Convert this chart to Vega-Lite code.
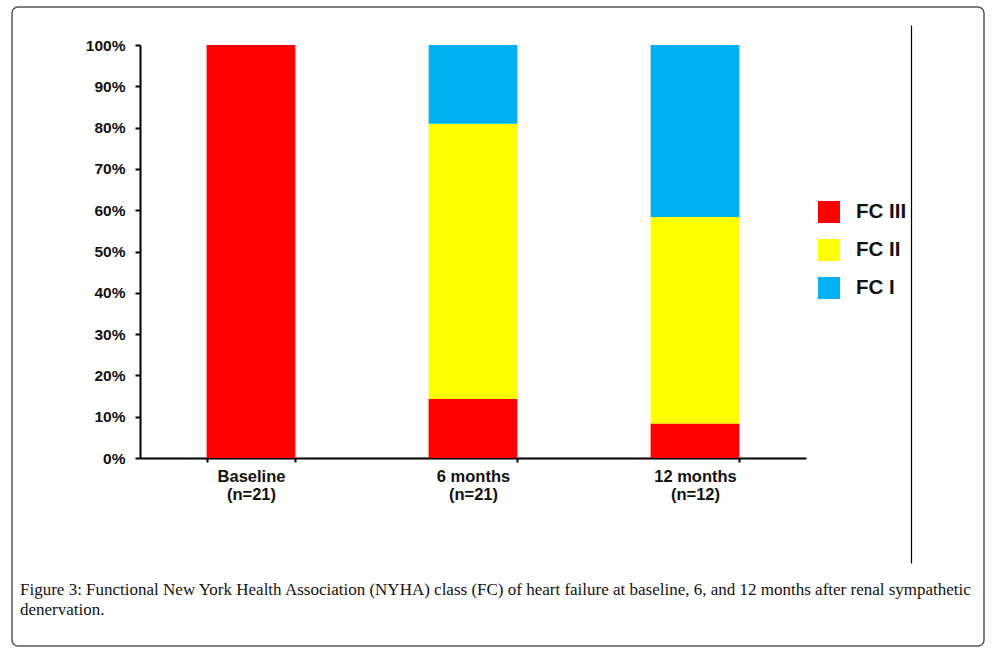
{
  "$schema": "https://vega.github.io/schema/vega-lite/v6.json",
  "autosize": {"type": "none"},
  "width": 972,
  "height": 639,
  "padding": {"left": 12, "top": 7, "right": 13, "bottom": 8},
  "background": "white",
  "config": {
    "view": {"stroke": "#555555", "strokeWidth": 1.5, "cornerRadius": 6},
    "font": "Liberation Sans"
  },
  "title": {
    "text": ["Figure 3: Functional New York Health Association (NYHA) class (FC) of heart failure at baseline, 6, and 12 months after renal sympathetic", "denervation."],
    "orient": "bottom",
    "anchor": "start",
    "frame": "group",
    "offset": -64,
    "dx": 8,
    "font": "Liberation Serif",
    "fontSize": 17,
    "fontWeight": "normal",
    "color": "#111111",
    "lineHeight": 20
  },
  "layer": [
    {
      "data": {
        "values": [
          {"period": "Baseline|(n=21)", "fc": "FC III", "count": 21},
          {"period": "6 months|(n=21)", "fc": "FC III", "count": 3},
          {"period": "6 months|(n=21)", "fc": "FC II", "count": 14},
          {"period": "6 months|(n=21)", "fc": "FC I", "count": 4},
          {"period": "12 months|(n=12)", "fc": "FC III", "count": 1},
          {"period": "12 months|(n=12)", "fc": "FC II", "count": 6},
          {"period": "12 months|(n=12)", "fc": "FC I", "count": 5}
        ]
      },
      "mark": {"type": "bar"},
      "encoding": {
        "x": {
          "field": "period",
          "type": "nominal",
          "sort": ["Baseline|(n=21)", "6 months|(n=21)", "12 months|(n=12)"],
          "scale": {"range": [128, 794], "paddingInner": 0.6, "paddingOuter": 0.3},
          "axis": {
            "title": null,
            "orient": "bottom",
            "offset": -188,
            "labelAngle": 0,
            "labelExpr": "split(datum.label, '|')",
            "labelFont": "Liberation Sans",
            "labelFontSize": 16.5,
            "labelFontWeight": "bold",
            "labelColor": "#111111",
            "labelPadding": 6,
            "labelLineHeight": 18,
            "tickBand": "extent",
            "tickSize": 4,
            "tickWidth": 2,
            "tickColor": "black",
            "domainColor": "black",
            "domainWidth": 2,
            "grid": false
          }
        },
        "y": {
          "field": "count",
          "type": "quantitative",
          "stack": "normalize",
          "scale": {"domain": [0, 1], "range": [451, 38], "nice": false, "zero": true},
          "axis": {
            "title": null,
            "orient": "left",
            "offset": -128,
            "format": ".0%",
            "values": [0, 0.1, 0.2, 0.3, 0.4, 0.5, 0.6, 0.7, 0.8, 0.9, 1],
            "labelFont": "Liberation Sans",
            "labelFontSize": 15.5,
            "labelFontWeight": "bold",
            "labelColor": "#111111",
            "labelPadding": 10,
            "tickSize": 5,
            "tickWidth": 2,
            "tickColor": "black",
            "domainColor": "black",
            "domainWidth": 2,
            "grid": false
          }
        },
        "color": {
          "field": "fc",
          "type": "nominal",
          "sort": ["FC III", "FC II", "FC I"],
          "scale": {"domain": ["FC III", "FC II", "FC I"], "range": ["#FF0000", "#FFFF00", "#00B0F0"]},
          "legend": {
            "title": null,
            "orient": "none",
            "legendX": 806,
            "legendY": 194,
            "symbolType": "square",
            "symbolSize": 484,
            "symbolStrokeWidth": 0,
            "labelFont": "Liberation Sans",
            "labelFontSize": 20.5,
            "labelFontWeight": "bold",
            "labelColor": "#111111",
            "labelOffset": 16,
            "rowPadding": 16
          }
        },
        "order": {"field": "fc", "sort": "descending"}
      }
    },
    {
      "data": {"values": [{"v": 0}, {"v": 1}]},
      "mark": {"type": "rule", "opacity": 0},
      "encoding": {
        "y": {
          "field": "v",
          "type": "quantitative",
          "scale": {"domain": [0, 1], "range": [556, 18], "nice": false},
          "axis": {
            "orient": "right",
            "offset": -73,
            "title": null,
            "labels": false,
            "ticks": false,
            "grid": false,
            "domainColor": "black",
            "domainWidth": 1.2
          }
        }
      }
    }
  ],
  "resolve": {"scale": {"y": "independent"}, "axis": {"y": "independent"}}
}
